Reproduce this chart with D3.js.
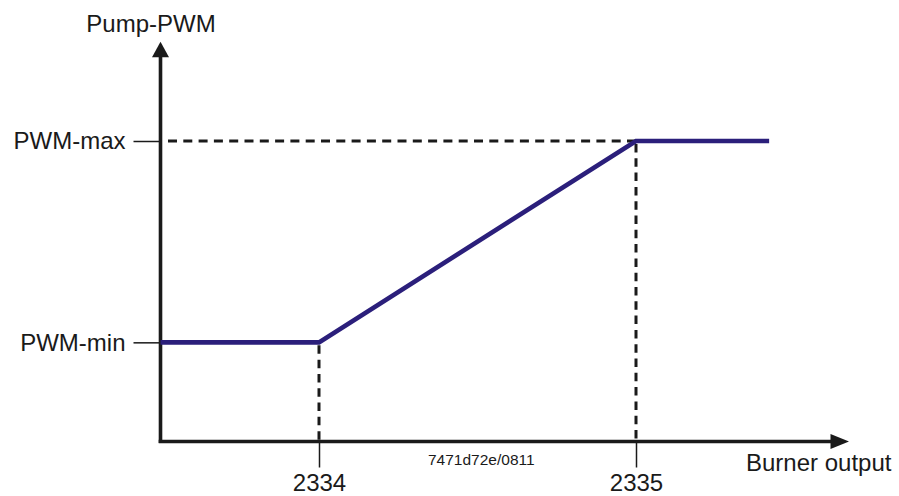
<!DOCTYPE html>
<html>
<head>
<meta charset="utf-8">
<script src="https://cdn.jsdelivr.net/npm/d3@7"></script>
<style>
  html, body { margin: 0; padding: 0; background: #fff; }
  svg { display: block; font-family: "Liberation Sans", Arial, sans-serif; }
</style>
</head>
<body>
<svg id="chart" width="899" height="496"></svg>
<script>
// Pump PWM characteristic against burner output (relative units, 0–100)
const outputPoints = [0, 25, 75, 96];
const pwmPoints = [33, 33, 100, 100];

// Parameter markers on each axis
const xTickValues = [25, 75];
const xTickLabels = ["2334", "2335"];
const yTickValues = [33, 100];
const yTickLabels = ["PWM-min", "PWM-max"];

// Axis captions and drawing code
const yTitle = "Pump-PWM";
const xTitle = "Burner output";
const docCode = "7471d72e/0811";

// How far the arrowed axes reach, in data units
const xAxisEnd = 108.6;
const yAxisEnd = 133;

const svg = d3.select("#chart");
const ink = "#1a1a1a";
const lineColor = "#2b1f7b";
const fontSize = 24;

const x = d3.scaleLinear().domain([0, 100]).range([160.5, 794.5]);
const y = d3.scaleLinear().domain([0, 100]).range([441.5, 141]);

// Dashed guide lines from the knee points
const guides = svg.append("g")
  .attr("stroke", ink)
  .attr("stroke-width", 3)
  .attr("fill", "none");

// horizontal guide at PWM-max, drawn from the knee back to the axis
guides.append("line")
  .attr("x1", x(outputPoints[2])).attr("y1", y(pwmPoints[2]))
  .attr("x2", x(0)).attr("y2", y(pwmPoints[2]))
  .attr("stroke-dasharray", "9,6.3");

// vertical guides down to the x axis
[1, 2].forEach(i => {
  guides.append("line")
    .attr("x1", x(outputPoints[i])).attr("y1", y(pwmPoints[i]) + 3)
    .attr("x2", x(outputPoints[i])).attr("y2", y(0))
    .attr("stroke-dasharray", "8.5,5.8");
});

// Tick marks with labels
const yAxis = d3.axisLeft(y)
  .tickValues(yTickValues)
  .tickFormat((d, i) => yTickLabels[i])
  .tickSize(27)
  .tickPadding(8);

const xAxis = d3.axisBottom(x)
  .tickValues(xTickValues)
  .tickFormat((d, i) => xTickLabels[i])
  .tickSize(26)
  .tickPadding(6);

const gy = svg.append("g").attr("transform", `translate(${x(0)},0)`).call(yAxis);
const gx = svg.append("g").attr("transform", `translate(0,${y(0)})`).call(xAxis);

[gy, gx].forEach(g => {
  g.select(".domain").remove();
  g.selectAll(".tick line").attr("stroke", ink).attr("stroke-width", 1.5);
  g.selectAll(".tick text")
    .attr("fill", ink)
    .style("font-size", fontSize + "px")
    .style("font-family", "'Liberation Sans', Arial, sans-serif");
});
gx.selectAll(".tick line").attr("y1", 1);

// Main axis lines with arrowheads
const axes = svg.append("g");
axes.append("line")
  .attr("x1", x(0)).attr("y1", y(0) + 1.5)
  .attr("x2", x(0)).attr("y2", y(yAxisEnd) + 12)
  .attr("stroke", ink).attr("stroke-width", 3.6);
axes.append("line")
  .attr("x1", x(0) - 1.8).attr("y1", y(0))
  .attr("x2", x(xAxisEnd) - 12).attr("y2", y(0))
  .attr("stroke", ink).attr("stroke-width", 3.6);

const yTipX = x(0), yTipY = y(yAxisEnd);
axes.append("path")
  .attr("d", `M${yTipX},${yTipY} L${yTipX + 8.5},${yTipY + 15.5} L${yTipX - 8.5},${yTipY + 15.5} Z`)
  .attr("fill", ink);
const xTipX = x(xAxisEnd), xTipY = y(0);
axes.append("path")
  .attr("d", `M${xTipX},${xTipY} L${xTipX - 18.5},${xTipY - 7.5} L${xTipX - 18.5},${xTipY + 7.5} Z`)
  .attr("fill", ink);

// The characteristic curve
const line = d3.line()
  .x((d, i) => x(outputPoints[i]))
  .y(d => y(d));

svg.append("path")
  .datum(pwmPoints)
  .attr("d", line)
  .attr("fill", "none")
  .attr("stroke", lineColor)
  .attr("stroke-width", 4.6)
  .attr("stroke-linejoin", "miter");

// Titles
svg.append("text")
  .attr("x", 151).attr("y", 32)
  .attr("text-anchor", "middle")
  .attr("fill", ink)
  .style("font-size", fontSize + "px")
  .text(yTitle);

svg.append("text")
  .attr("x", 746).attr("y", 471)
  .attr("fill", ink)
  .style("font-size", fontSize + "px")
  .text(xTitle);

svg.append("text")
  .attr("x", 428).attr("y", 465)
  .attr("fill", ink)
  .style("font-size", "15.5px")
  .text(docCode);
</script>
</body>
</html>
